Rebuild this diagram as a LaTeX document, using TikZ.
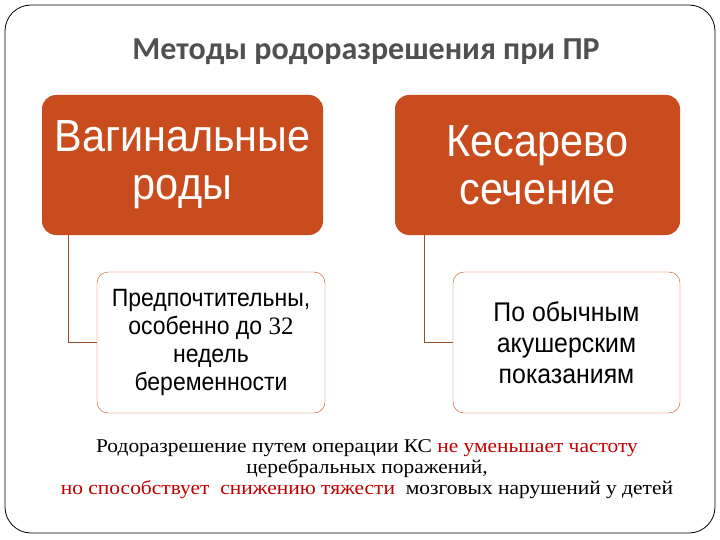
\documentclass[tikz,border=0pt]{standalone}
\usepackage{fontspec}
\setmainfont{Liberation Serif}[FakeStretch=1.1]
\newfontfamily\titlefont{Carlito}
\newfontfamily\narrowfont{Liberation Sans}[FakeStretch=0.92]
\newfontfamily\numfont{Liberation Serif}
\usetikzlibrary{positioning}

\definecolor{boxorange}{RGB}{200,76,30}
\definecolor{linkbrown}{RGB}{150,80,45}
\definecolor{titlegray}{RGB}{80,80,80}
\definecolor{notered}{RGB}{192,0,0}

\begin{document}
\begin{tikzpicture}[x=1pt, y=-1pt,
    headbox/.style={rectangle, rounded corners=14pt, fill=boxorange, text=white, align=center,
      minimum height=140pt, inner sep=0pt, font=\narrowfont\fontsize{45}{48}\selectfont},
    subbox/.style={rectangle, rounded corners=11pt, draw=boxorange, fill=white, align=center,
      minimum height=141pt, inner sep=0pt},
    link/.style={draw=linkbrown, line width=0.8pt}]
  \useasboundingbox (0,0) rectangle (720,540);
  \draw[line width=0.8pt, rounded corners=26pt] (5,5) rectangle (715,533);

  \node[text=titlegray, font=\titlefont\bfseries\fontsize{32}{35}\selectfont] (title) at (366,52) {Методы родоразрешения при ПР};

  \node[headbox, minimum width=281pt] (vag) at (182.5,165) {Вагинальные\\роды};
  \node[headbox, minimum width=285pt] (ks) at (537.5,165) {Кесарево\\сечение};

  \node[subbox, minimum width=228pt, font=\narrowfont\fontsize{25}{28}\selectfont] (pref) at (211,342.5)
    {Предпочтительны,\\особенно до {\numfont 32}\\недель\\беременности};
  \node[subbox, minimum width=227pt, font=\narrowfont\fontsize{27}{31}\selectfont] (pok) at (566.5,342.5)
    {По обычным\\акушерским\\показаниям};

  \draw[link] ([xshift=27pt]vag.south west) |- (pref.west);
  \draw[link] ([xshift=30pt]ks.south west) |- (pok.west);

  \node[align=center, font=\fontsize{19.5}{21}\selectfont] (note) at (367,469)
    {Родоразрешение путем операции КС \textcolor{notered}{не уменьшает частоту}\\
     церебральных поражений,\\
     \textcolor{notered}{но способствует \ снижению тяжести} \ мозговых нарушений у детей};
\end{tikzpicture}
\end{document}
